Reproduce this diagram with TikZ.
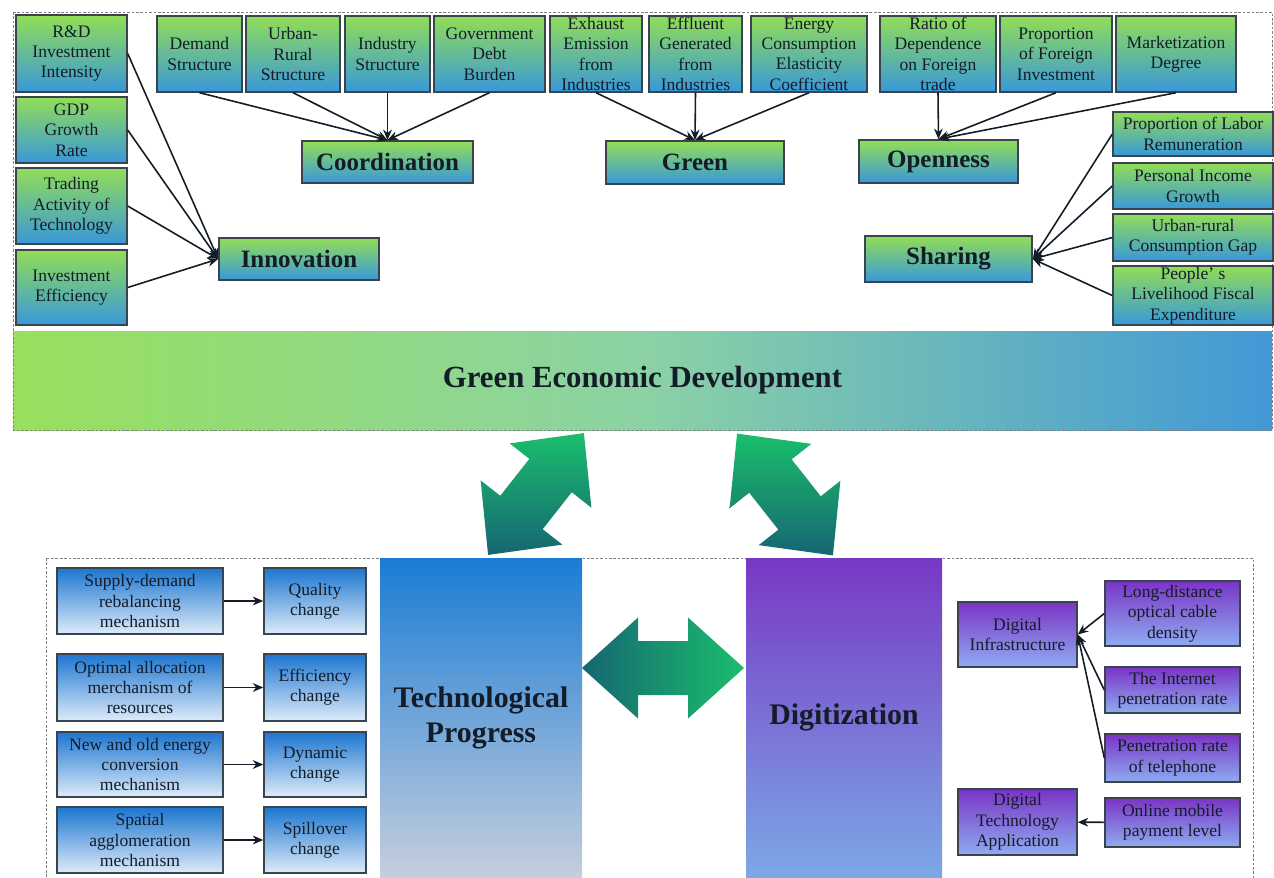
\documentclass[tikz,border=0pt]{standalone}
\usepackage{fontspec}
\setmainfont{Liberation Serif}
\usetikzlibrary{arrows.meta}

\definecolor{gtop}{RGB}{146,221,86}
\definecolor{gbot}{RGB}{56,152,218}
\definecolor{btop}{RGB}{28,118,208}
\definecolor{bbot}{RGB}{222,235,249}
\definecolor{ptop}{RGB}{122,52,198}
\definecolor{pbot}{RGB}{142,172,240}
\definecolor{rim}{RGB}{58,68,78}
\definecolor{ink}{RGB}{20,28,40}
\definecolor{arrgreen}{RGB}{26,190,108}
\definecolor{arrteal}{RGB}{22,102,114}

\tikzset{
  wh/.style 2 args={minimum width=#1*0.02cm, minimum height=#2*0.02cm},
  cell/.style={draw=rim, line width=0.8pt, inner sep=0pt, align=center, text=ink,
    font=\fontsize{10}{11.6}\selectfont},
  greencell/.style={cell, top color=gtop, bottom color=gbot},
  bluecell/.style={cell, top color=btop, bottom color=bbot},
  purplecell/.style={cell, top color=ptop, bottom color=pbot},
  dimbox/.style={greencell, line width=1pt, font=\fontsize{14.2}{17}\selectfont\bfseries},
  pillar/.style={inner sep=0pt, align=center, text=ink, font=\fontsize{17}{20}\selectfont\bfseries},
  band/.style={inner sep=0pt, text=ink, left color={rgb,255:red,152;green,224;blue,92},
    right color={rgb,255:red,66;green,152;blue,214}, middle color={rgb,255:red,140;green,210;blue,165},
    font=\fontsize{17.5}{20}\selectfont\bfseries},
  dashframe/.style={draw=gray, line width=0.5pt, dash pattern=on 1.5pt off 1pt},
  feed/.style={-{Stealth[length=6pt,width=5pt]}, line width=0.9pt, ink},
  twoway/.style={top color=arrgreen, bottom color=arrteal},
}

\begin{document}
\begin{tikzpicture}[x=0.02cm,y=-0.02cm]
\useasboundingbox (0,0) rectangle (1274,877);

% development band and upper frame
\node[band, wh={1259}{99}] (ged) at (642.5,380.5) {Green Economic Development};
\draw[dashframe] (13,12) rectangle (1272,430);

% innovation
\node[greencell, wh={111}{77}] (rd) at (71.5,53.5) {R\&D\\Investment\\Intensity};
\node[greencell, wh={111}{66}] (gdp) at (71.5,130) {GDP\\Growth\\Rate};
\node[greencell, wh={111}{76}] (trade) at (71.5,206) {Trading\\Activity of\\Technology};
\node[greencell, wh={111}{75}] (inveff) at (71.5,287.5) {Investment\\Efficiency};
\node[dimbox, wh={160}{42}] (innov) at (299,259) {Innovation};
\foreach \s in {rd,gdp,trade,inveff}
  \draw[feed] (\s.east) -- (innov.west);

% coordination
\node[greencell, wh={85}{76}] (demand) at (199.5,54) {Demand\\Structure};
\node[greencell, wh={94}{76}] (urbrur) at (293,54) {Urban-\\Rural\\Structure};
\node[greencell, wh={85}{76}] (indus) at (387.5,54) {Industry\\Structure};
\node[greencell, wh={111}{76}] (debt) at (489.5,54) {Government\\Debt\\Burden};
\node[dimbox, wh={171}{42}] (coord) at (387.5,162) {Coordination};
\foreach \s in {demand,urbrur,indus,debt}
  \draw[feed] (\s.south) -- (coord.north);

% green
\node[greencell, wh={92}{76}] (exhaust) at (596,54) {Exhaust\\Emission\\from\\Industries};
\node[greencell, wh={93}{76}] (effluent) at (695.5,54) {Effluent\\Generated\\from\\Industries};
\node[greencell, wh={116}{76}] (elastic) at (809,54) {Energy\\Consumption\\Elasticity\\Coefficient};
\node[dimbox, wh={178}{43}] (green) at (695,162.5) {Green};
\foreach \s in {exhaust,effluent,elastic}
  \draw[feed] (\s.south) -- (green.north);

% openness
\node[greencell, wh={116}{76}] (depend) at (938,54) {Ratio of\\Dependence\\on Foreign\\trade};
\node[greencell, wh={112}{76}] (fdi) at (1056,54) {Proportion\\of Foreign\\Investment};
\node[greencell, wh={120}{76}] (market) at (1176,54) {Marketization\\Degree};
\node[dimbox, wh={159}{43}] (open) at (938.5,161.5) {Openness};
\foreach \s in {depend,fdi,market}
  \draw[feed] (\s.south) -- (open.north);

% sharing
\node[greencell, wh={160}{44}] (labor) at (1193,134) {Proportion of Labor\\Remuneration};
\node[greencell, wh={160}{46}] (income) at (1193,186) {Personal Income\\Growth};
\node[greencell, wh={160}{47}] (gap) at (1193,237.5) {Urban-rural\\Consumption Gap};
\node[greencell, wh={160}{59}] (fiscal) at (1193,295.5) {People’ s\\Livelihood Fiscal\\Expenditure};
\node[dimbox, wh={167}{46}] (share) at (948.5,259) {Sharing};
\foreach \s in {labor,income,gap,fiscal}
  \draw[feed] (\s.west) -- (share.east);

% lower frame and the two pillars
\draw[dashframe] (46,558) rectangle (1253,890);
\node[pillar, wh={202}{319}, top color={rgb,255:red,26;green,124;blue,212},
  bottom color={rgb,255:red,198;green,206;blue,222}] (tech) at (481,717.5) {Technological\\Progress};
\node[pillar, wh={196}{319}, top color={rgb,255:red,120;green,56;blue,196},
  bottom color={rgb,255:red,124;green,168;blue,230}] (digit) at (844,717.5) {Digitization};

% mechanisms of technological progress
\node[bluecell, wh={166}{66}] (rebal) at (140,601) {Supply-demand\\rebalancing\\mechanism};
\node[bluecell, wh={102}{66}] (quality) at (315,601) {Quality\\change};
\node[bluecell, wh={166}{67}] (alloc) at (140,687.5) {Optimal allocation\\merchanism of\\resources};
\node[bluecell, wh={102}{67}] (effic) at (315,687.5) {Efficiency\\change};
\node[bluecell, wh={166}{65}] (convert) at (140,764.5) {New and old energy\\conversion\\mechanism};
\node[bluecell, wh={102}{65}] (dynamic) at (315,764.5) {Dynamic\\change};
\node[bluecell, wh={166}{66}] (agglom) at (140,840) {Spatial\\agglomeration\\mechanism};
\node[bluecell, wh={102}{66}] (spill) at (315,840) {Spillover\\change};
\foreach \a/\b in {rebal/quality,alloc/effic,convert/dynamic,agglom/spill}
  \draw[feed] (\a) -- (\b);

% digitization indicators
\node[purplecell, wh={119}{65}] (infra) at (1017.5,634.5) {Digital\\Infrastructure};
\node[purplecell, wh={135}{65}] (cable) at (1172.5,613.5) {Long-distance\\optical cable\\density};
\node[purplecell, wh={135}{46}] (inet) at (1172.5,690) {The Internet\\penetration rate};
\node[purplecell, wh={135}{48}] (phone) at (1172.5,758) {Penetration rate\\of telephone};
\node[purplecell, wh={119}{66}] (dtapp) at (1017.5,822) {Digital\\Technology\\Application};
\node[purplecell, wh={135}{49}] (mobile) at (1172.5,822.5) {Online mobile\\payment level};
\foreach \s in {cable,inet,phone}
  \draw[feed] (\s.west) -- (infra.east);
\draw[feed] (mobile) -- (dtapp);

% two-way block arrows
\begin{scope}[shift={(536,494)}, rotate=51.8]
  \shade[twoway] (-77.5,0) -- (-23.5,-52) -- (-23.5,-27) -- (23.5,-27)
    -- (23.5,-52) -- (77.5,0) -- (23.5,52) -- (23.5,27) -- (-23.5,27) -- (-23.5,52) -- cycle;
\end{scope}
\begin{scope}[shift={(785,494.5)}, rotate=128.2]
  \shade[twoway] (-77.5,0) -- (-23.5,-52) -- (-23.5,-27) -- (23.5,-27)
    -- (23.5,-52) -- (77.5,0) -- (23.5,52) -- (23.5,27) -- (-23.5,27) -- (-23.5,52) -- cycle;
\end{scope}
\begin{scope}[shift={(663,668)}]
  \shade[left color=arrteal, right color=arrgreen] (-81,0) -- (-25,-50.5) -- (-25,-27) -- (25,-27)
    -- (25,-50.5) -- (81,0) -- (25,50.5) -- (25,27) -- (-25,27) -- (-25,50.5) -- cycle;
\end{scope}
\end{tikzpicture}
\end{document}
